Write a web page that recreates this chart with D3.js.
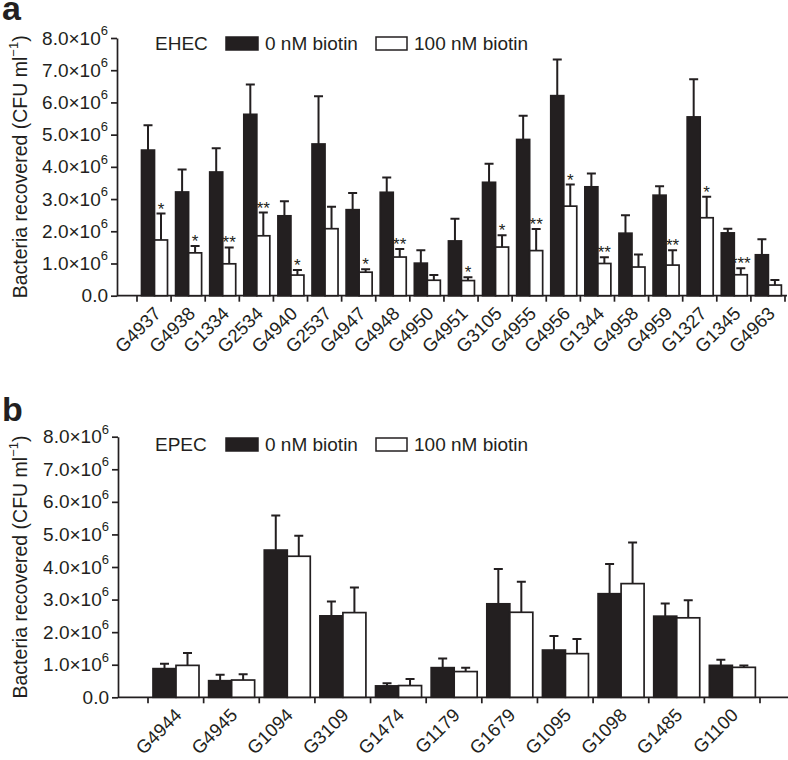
<!DOCTYPE html>
<html><head><meta charset="utf-8">
<script src="https://cdn.jsdelivr.net/npm/d3@7"></script>
<style>
body{margin:0;background:#fff;}
svg text{font-family:"Liberation Sans",Arial,Helvetica,sans-serif;fill:#231f20;}
</style></head>
<body><svg id="chart" width="788" height="760"></svg>
<script>
// ---- Data (values in units of 10^6 CFU/ml) ----
const seriesNames = ["0 nM biotin", "100 nM biotin"];
const yTicks = [0, 1, 2, 3, 4, 5, 6, 7, 8];

const catsA = ["G4937","G4938","G1334","G2534","G4940","G2537","G4947","G4948","G4950","G4951","G3105","G4955","G4956","G1344","G4958","G4959","G1327","G1345","G4963"];
const a0Mean  = [4.52,3.22,3.84,5.63,2.48,4.71,2.67,3.21,1.01,1.70,3.52,4.85,6.21,3.38,1.94,3.12,5.55,1.95,1.27];
const a0Sem   = [0.77,0.70,0.74,0.93,0.45,1.48,0.52,0.46,0.40,0.69,0.58,0.74,1.12,0.41,0.56,0.28,1.17,0.13,0.48];
const a100Mean= [1.73,1.33,0.99,1.86,0.64,2.08,0.73,1.20,0.48,0.47,1.51,1.40,2.78,1.00,0.89,0.95,2.42,0.65,0.33];
const a100Sem = [0.82,0.21,0.51,0.72,0.16,0.68,0.09,0.25,0.16,0.10,0.37,0.67,0.67,0.19,0.39,0.46,0.65,0.20,0.16];
const aSig    = ["*","*","**","**","*","","*","**","","*","*","**","*","**","","**","*","***",""];

const catsB = ["G4944","G4945","G1094","G3109","G1474","G1179","G1679","G1095","G1098","G1485","G1100"];
const b0Mean  = [0.88,0.51,4.52,2.50,0.35,0.91,2.87,1.45,3.18,2.49,0.98];
const b0Sem   = [0.15,0.18,1.06,0.44,0.08,0.28,1.07,0.43,0.91,0.39,0.17];
const b100Mean= [0.98,0.53,4.33,2.60,0.36,0.79,2.61,1.34,3.49,2.44,0.92];
const b100Sem = [0.38,0.18,0.63,0.77,0.20,0.12,0.94,0.45,1.26,0.54,0.06];

const INK = "#231f20";
const svg = d3.select("#chart");

function panel(opt){
  const g = svg.append("g");
  const y = d3.scaleLinear().domain([0, 8]).range([opt.y0, opt.y1]);
  const x = d3.scaleBand().domain(opt.cats).range([opt.xStart, opt.xEnd]).paddingInner(0).paddingOuter(0);
  const xs = d3.scaleBand().domain(seriesNames).range(opt.sub);

  // panel letter
  g.append("text").attr("x", 2).attr("y", opt.letterY).attr("font-size", 34).attr("font-weight", "bold").text(opt.letter);

  // y axis
  const yAxis = d3.axisLeft(y).tickValues(yTicks).tickSize(6).tickPadding(3).tickSizeOuter(0);
  const ya = g.append("g").attr("transform", `translate(${opt.axisX},0)`).call(yAxis);
  ya.select(".domain").attr("stroke", INK).attr("stroke-width", 1.7);
  ya.selectAll(".tick line").attr("stroke", INK).attr("stroke-width", 1.7);
  ya.selectAll(".tick text").attr("font-size", 19).attr("fill", INK).attr("font-family", null)
    .each(function(d){
      const t = d3.select(this); t.text("");
      if (d === 0) { t.text("0.0"); return; }
      t.append("tspan").text(d.toFixed(1) + "\u00d710");
      t.append("tspan").attr("font-size", 13).attr("dy", "-0.75em").text("6");
    });

  // y title
  const yc = (opt.y0 + opt.y1) / 2;
  const title = g.append("text").attr("transform", `translate(27,${yc}) rotate(-90)`)
    .attr("text-anchor", "middle").attr("font-size", 19.5);
  title.append("tspan").text("Bacteria recovered (CFU ml");
  title.append("tspan").attr("font-size", 13).attr("dy", "-0.7em").text("\u22121");
  title.append("tspan").attr("dy", "0.45em").text(")");

  // x axis line and ticks
  g.append("line").attr("x1", opt.axisX).attr("x2", opt.axisEnd).attr("y1", opt.y0).attr("y2", opt.y0)
    .attr("stroke", INK).attr("stroke-width", 1.7);
  const bounds = opt.cats.map(c => x(c)).concat([x(opt.cats[opt.cats.length-1]) + x.bandwidth()]);
  g.selectAll(".xt").data(bounds).join("line").attr("class","xt")
    .attr("x1", d => d).attr("x2", d => d).attr("y1", opt.y0).attr("y2", opt.y0 + 6)
    .attr("stroke", INK).attr("stroke-width", 1.7);
  g.selectAll(".xl").data(opt.cats).join("text").attr("class","xl")
    .attr("transform", d => `translate(${x(d) + x.bandwidth()/2 + opt.lblDx},${opt.y0 + opt.lblDy}) rotate(-45)`)
    .attr("text-anchor", "end").attr("font-size", opt.lblSize).text(d => d);

  // bars
  const rows = opt.cats.map((c, i) => ({c, i}));
  const series = [
    {name: seriesNames[0], mean: opt.m0, sem: opt.s0, fill: INK},
    {name: seriesNames[1], mean: opt.m1, sem: opt.s1, fill: "#fff"}
  ];
  series.forEach(s => {
    const sg = g.append("g");
    sg.selectAll(".eb").data(rows).join("path").attr("class","eb")
      .attr("d", r => {
        const cx = x(r.c) + xs(s.name) + xs.bandwidth()/2;
        const yt = y(s.mean[r.i] + s.sem[r.i]);
        return `M${cx},${y(s.mean[r.i])}V${yt}M${cx-4.5},${yt}H${cx+4.5}`;
      })
      .attr("stroke", INK).attr("stroke-width", 2).attr("fill", "none");
    sg.selectAll(".bar").data(rows).join("rect").attr("class","bar")
      .attr("x", r => x(r.c) + xs(s.name))
      .attr("width", xs.bandwidth())
      .attr("y", r => y(s.mean[r.i]))
      .attr("height", r => y(0) - y(s.mean[r.i]))
      .attr("fill", s.fill).attr("stroke", INK).attr("stroke-width", 1.7);
  });

  // significance stars
  if (opt.sig) {
    g.selectAll(".sig").data(rows.filter(r => opt.sig[r.i])).join("text").attr("class","sig")
      .attr("x", r => x(r.c) + xs(seriesNames[1]) + xs.bandwidth()/2)
      .attr("y", r => y(opt.m1[r.i] + opt.s1[r.i]) + 1)
      .attr("text-anchor", "middle").attr("font-size", 17).attr("fill", "#333")
      .text(r => opt.sig[r.i]);
  }

  // legend
  const ly = opt.legY;
  g.append("text").attr("x", 155).attr("y", ly).attr("font-size", 19).text(opt.strain);
  g.append("rect").attr("x", 226).attr("y", ly - 13).attr("width", 32).attr("height", 13)
    .attr("fill", INK).attr("stroke", INK).attr("stroke-width", 1.5);
  g.append("text").attr("x", 265).attr("y", ly).attr("font-size", 19).text(seriesNames[0]);
  g.append("rect").attr("x", 376).attr("y", ly - 13).attr("width", 31).attr("height", 13)
    .attr("fill", "#fff").attr("stroke", INK).attr("stroke-width", 1.5);
  g.append("text").attr("x", 414).attr("y", ly).attr("font-size", 19).text(seriesNames[1]);
}

panel({letter:"a", letterY:20, strain:"EHEC", legY:50,
  cats:catsA, m0:a0Mean, s0:a0Sem, m1:a100Mean, s1:a100Sem, sig:aSig,
  y0:295.7, y1:38, axisX:117, axisEnd:787, xStart:137, xEnd:785, sub:[4.5,30.5],
  lblDx:8, lblDy:19, lblSize:18.5});

panel({letter:"b", letterY:421, strain:"EPEC", legY:451,
  cats:catsB, m0:b0Mean, s0:b0Sem, m1:b100Mean, s1:b100Sem, sig:null,
  y0:697.3, y1:436.7, axisX:118, axisEnd:788, xStart:148, xEnd:760, sub:[5,51],
  lblDx:7, lblDy:19, lblSize:18.5});
</script></body></html>
